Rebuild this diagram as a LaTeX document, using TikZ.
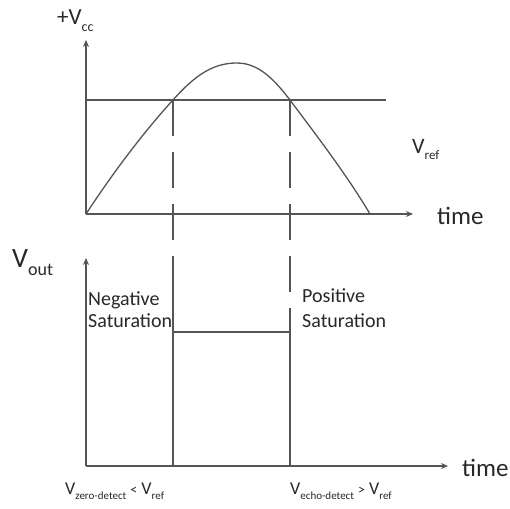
\documentclass[tikz,border=0pt]{standalone}
\usepackage{fontspec}
\setmainfont{Carlito}
\usetikzlibrary{arrows.meta}
\definecolor{lineg}{RGB}{85,85,85}
\definecolor{txtg}{RGB}{40,40,40}
\newcommand\lowsub[2]{\raisebox{-0.3em}{\fontsize{#1}{#1}\selectfont #2}}
\begin{document}
\begin{tikzpicture}[x=1pt,y=-1pt,
  ax/.style={line width=1.3pt, draw=lineg, -{Stealth[length=7pt,width=6pt]}},
  ln/.style={line width=1.3pt, draw=lineg},
  dsh/.style={ln, dash pattern=on 36pt off 16pt},
  lbl/.style={inner sep=0pt, anchor=base west, text=txtg}]
\useasboundingbox (0,0) rectangle (510,508);
\fill[white] (0,0) rectangle (510,508);
% top graph coordinates
\coordinate (o1) at (86,214);
\coordinate (y1) at (86,40);
\coordinate (x1) at (413,214);
\coordinate (r0) at (86,100);
\coordinate (r1) at (386,100);
\coordinate (c1) at (173,100);
\coordinate (pk) at (237,63);
\coordinate (c2) at (290,100);
\coordinate (ce) at (370,214);
% bottom graph coordinates
\coordinate (o2) at (86,466);
\coordinate (y2) at (86,258);
\coordinate (x2) at (448,466);
\coordinate (d1) at (173,278);
\coordinate (b1) at (173,466);
\coordinate (h1) at (173,332);
\coordinate (h2) at (290,332);
\coordinate (b2) at (290,466);
% axes
\draw[ax] (o1) -- (y1);
\draw[ax] (o1) -- (x1);
\draw[ax] (o2) -- (y2);
\draw[ax] (o2) -- (x2);
% reference level and sine
\draw[ln] (r0) -- (r1);
\draw[ln] (o1) .. controls (118,165) and (150,125) .. (c1)
               .. controls (196,74) and (214,63) .. (pk)
               .. controls (260,63) and (276,82) .. (c2)
               .. controls (313,131) and (345,172) .. (ce);
% dashed drops
\draw[dsh] (c1) -- (d1);
\draw[ln] (d1) -- (b1);
\draw[dsh] (c2) -- (h2);
\draw[ln] (h1) -- (h2) -- (b2);
% labels
\node[lbl] (vcc) at (57,25) {\fontsize{23}{23}\selectfont +V\lowsub{14}{cc}};
\node[lbl] (t1) at (437,224) {\fontsize{25}{25}\selectfont time};
\node[lbl] (t2) at (462,476) {\fontsize{25}{25}\selectfont time};
\node[lbl] (vref) at (412,153) {\fontsize{22}{22}\selectfont V\lowsub{13}{ref}};
\node[lbl] (vout) at (12,267) {\fontsize{28}{28}\selectfont V\lowsub{18}{out}};
\node[lbl] (neg1) at (88,305) {\fontsize{20}{20}\selectfont Negative};
\node[lbl] (neg2) at (88,327) {\fontsize{20}{20}\selectfont Saturation};
\node[lbl] (pos1) at (302,302) {\fontsize{20}{20}\selectfont Positive};
\node[lbl] (pos2) at (302,327) {\fontsize{20}{20}\selectfont Saturation};
\node[lbl] (zl) at (65,494) {\fontsize{18}{18}\selectfont V\lowsub{11}{zero-detect} {\fontsize{14}{14}\selectfont <} V\lowsub{11}{ref}};
\node[lbl] (el) at (290,494) {\fontsize{18}{18}\selectfont V\lowsub{11}{echo-detect} {\fontsize{14}{14}\selectfont >} V\lowsub{11}{ref}};
\end{tikzpicture}
\end{document}
